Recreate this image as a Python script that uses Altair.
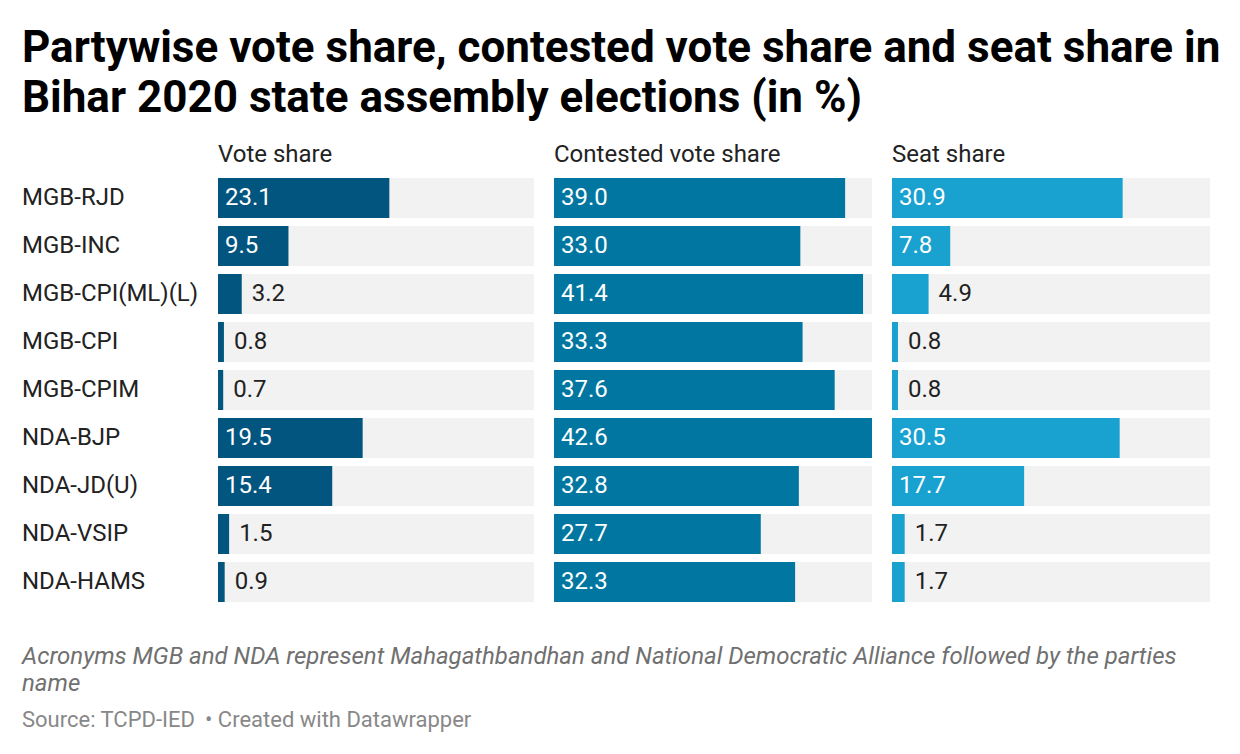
import altair as alt
import pandas as pd

parties = ["MGB-RJD", "MGB-INC", "MGB-CPI(ML)(L)", "MGB-CPI", "MGB-CPIM",
           "NDA-BJP", "NDA-JD(U)", "NDA-VSIP", "NDA-HAMS"]
vote_share = [23.1, 9.5, 3.2, 0.8, 0.7, 19.5, 15.4, 1.5, 0.9]
contested_share = [39.0, 33.0, 41.4, 33.3, 37.6, 42.6, 32.8, 27.7, 32.3]
seat_share = [30.9, 7.8, 4.9, 0.8, 0.8, 30.5, 17.7, 1.7, 1.7]

panels = [("Vote share", vote_share, "#02557f", 316),
          ("Contested vote share", contested_share, "#0076a0", 318),
          ("Seat share", seat_share, "#19a1cf", 318)]

xmax = max(max(vote_share), max(contested_share), max(seat_share))
FONT = "Roboto"
FS = 24

yscale = alt.Scale(domain=parties, paddingInner=1/6, paddingOuter=1/12)
yenc = alt.Y("party:N", scale=yscale, axis=None, sort=parties)
H = 432

def panel(title, values, color, width):
    df = pd.DataFrame({"party": parties, "value": values, "full": [xmax] * len(parties)})
    xs = alt.Scale(domain=[0, xmax], nice=False, zero=True)
    base = alt.Chart(df)
    bg = base.mark_bar(color="#f2f2f2", cornerRadius=0).encode(
        x=alt.X("full:Q", scale=xs, axis=None), y=yenc)
    fg = base.mark_bar(color=color).encode(
        x=alt.X("value:Q", scale=xs, axis=None), y=yenc)
    txt_in = base.transform_filter("datum.value >= 6").mark_text(
        align="left", baseline="middle", font=FONT, fontSize=FS, color="white", dx=7
    ).encode(x=alt.value(0), y=yenc, text=alt.Text("value:Q", format=".1f"))
    txt_out = base.transform_filter("datum.value < 6").mark_text(
        align="left", baseline="middle", font=FONT, fontSize=FS, color="#222222", dx=10
    ).encode(x=alt.X("value:Q", scale=xs, axis=None), y=yenc,
             text=alt.Text("value:Q", format=".1f"))
    return alt.layer(bg, fg, txt_in, txt_out).properties(
        width=width, height=H,
        title=alt.TitleParams(text=title, anchor="start", font=FONT, fontSize=FS,
                              fontWeight="normal", color="#222222", offset=7))

labels_df = pd.DataFrame({"party": parties})
label_chart = alt.Chart(labels_df).mark_text(
    align="left", baseline="middle", font=FONT, fontSize=FS, color="#222222"
).encode(x=alt.value(0), y=yenc, text="party:N").properties(
    width=176, height=H,
    title=alt.TitleParams(text=" ", anchor="start", font=FONT, fontSize=FS,
                          fontWeight="normal", offset=7))

row = alt.hconcat(label_chart, *[panel(*p) for p in panels], spacing=20, bounds="flush")

note_lines = [
    "Acronyms MGB and NDA represent Mahagathbandhan and National Democratic Alliance followed by the parties",
    "name",
]
source_line = "Source: TCPD-IED \u2009\u2022 Created with Datawrapper"

fdf1 = pd.DataFrame({"line": [note_lines[0]]})
fdf2 = pd.DataFrame({"line": [note_lines[1]]})
fdf3 = pd.DataFrame({"line": [source_line]})
note_style = dict(align="left", baseline="middle", font=FONT, fontSize=24,
                  fontStyle="italic", color="#707070")
n1 = alt.Chart(fdf1).mark_text(**note_style).encode(x=alt.value(0), y=alt.value(31), text="line:N")
n2 = alt.Chart(fdf2).mark_text(**note_style).encode(x=alt.value(0), y=alt.value(58), text="line:N")
s1 = alt.Chart(fdf3).mark_text(
    align="left", baseline="middle", font=FONT, fontSize=22, color="#888888"
).encode(x=alt.value(0), y=alt.value(94), text="line:N")
footer = alt.layer(n1, n2, s1).properties(width=1188, height=105)

chart = alt.vconcat(row, footer, spacing=20).properties(
    title=alt.TitleParams(
        text=["Partywise vote share, contested vote share and seat share in",
              "Bihar 2020 state assembly elections (in %)"],
        anchor="start", font=FONT, fontSize=44, fontWeight="bold", color="#000000",
        lineHeight=50, offset=22),
    padding={"left": 22, "top": 27, "right": 5, "bottom": 5},
    background="white",
).configure_view(stroke=None).configure_concat(spacing=20)

chart.save("out.html", embed_options={"renderer": "svg", "actions": False})
